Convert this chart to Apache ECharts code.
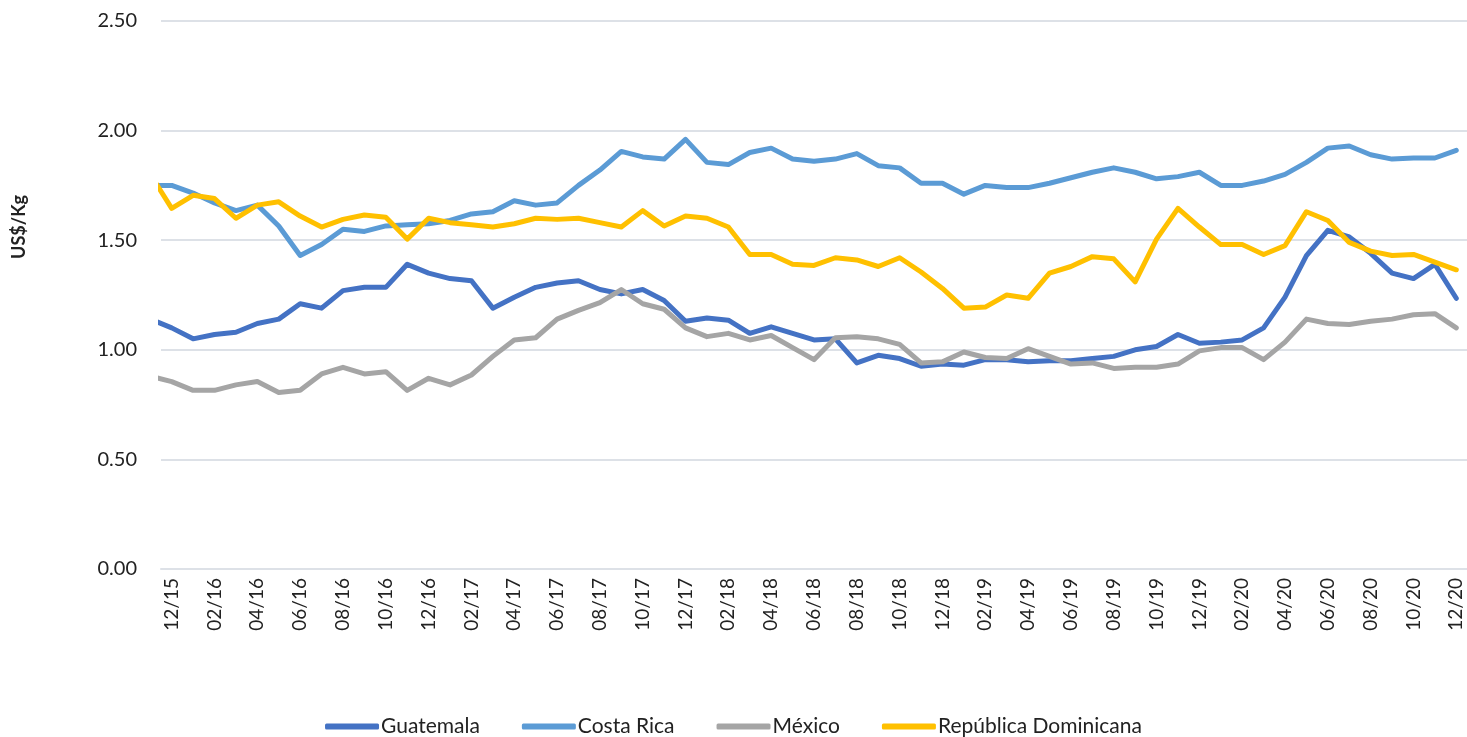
<!DOCTYPE html>
<html>
<head>
<meta charset="utf-8">
<title>US$/Kg</title>
<script src="https://cdn.jsdelivr.net/npm/echarts@6/dist/echarts.min.js"></script>
<style>
  html, body { margin: 0; padding: 0; background: #fff; }
  #chart { width: 1467px; height: 737px; }
</style>
</head>
<body>
<div id="chart"></div>
<script>
// months, first one (11/15) sits just outside the plot and only shows as a clipped stub
const months = [
  '11/15', '12/15',
  '01/16', '02/16', '03/16', '04/16', '05/16', '06/16', '07/16', '08/16', '09/16', '10/16', '11/16', '12/16',
  '01/17', '02/17', '03/17', '04/17', '05/17', '06/17', '07/17', '08/17', '09/17', '10/17', '11/17', '12/17',
  '01/18', '02/18', '03/18', '04/18', '05/18', '06/18', '07/18', '08/18', '09/18', '10/18', '11/18', '12/18',
  '01/19', '02/19', '03/19', '04/19', '05/19', '06/19', '07/19', '08/19', '09/19', '10/19', '11/19', '12/19',
  '01/20', '02/20', '03/20', '04/20', '05/20', '06/20', '07/20', '08/20', '09/20', '10/20', '11/20', '12/20'
]
// every other month is labelled
const labelMonths = [
  '12/15', '02/16', '04/16', '06/16', '08/16', '10/16', '12/16', '02/17', '04/17', '06/17', '08/17',
  '10/17', '12/17', '02/18', '04/18', '06/18', '08/18', '10/18', '12/18', '02/19', '04/19', '06/19',
  '08/19', '10/19', '12/19', '02/20', '04/20', '06/20', '08/20', '10/20', '12/20'
]

const guatemala = [
  1.14, 1.10, 1.05, 1.07, 1.08, 1.12, 1.14, 1.21, 1.19, 1.27, 1.285, 1.285, 1.39, 1.35,
  1.325, 1.315, 1.19, 1.24, 1.285, 1.305, 1.315, 1.275, 1.255, 1.275, 1.225, 1.13, 1.145,
  1.135, 1.075, 1.105, 1.075, 1.045, 1.05, 0.94, 0.975, 0.96, 0.925, 0.935, 0.93, 0.955,
  0.955, 0.945, 0.95, 0.95, 0.96, 0.97, 1.00, 1.015, 1.07, 1.03, 1.035, 1.045, 1.10,
  1.24, 1.43, 1.545, 1.515, 1.44, 1.35, 1.325, 1.39, 1.235
]
const costaRica = [
  1.75, 1.75, 1.715, 1.67, 1.635, 1.66, 1.565, 1.43, 1.48, 1.55, 1.54, 1.565, 1.57, 1.575,
  1.59, 1.62, 1.63, 1.68, 1.66, 1.67, 1.75, 1.82, 1.905, 1.88, 1.87, 1.96, 1.855,
  1.845, 1.90, 1.92, 1.87, 1.86, 1.87, 1.895, 1.84, 1.83, 1.76, 1.76, 1.71, 1.75,
  1.74, 1.74, 1.76, 1.785, 1.81, 1.83, 1.81, 1.78, 1.79, 1.81, 1.75, 1.75, 1.77,
  1.80, 1.855, 1.92, 1.93, 1.89, 1.87, 1.875, 1.875, 1.91
]
const mexico = [
  0.88, 0.855, 0.815, 0.815, 0.84, 0.855, 0.805, 0.815, 0.89, 0.92, 0.89, 0.90, 0.815, 0.87,
  0.84, 0.885, 0.97, 1.045, 1.055, 1.14, 1.18, 1.215, 1.275, 1.21, 1.185, 1.10, 1.06,
  1.075, 1.045, 1.065, 1.01, 0.955, 1.055, 1.06, 1.05, 1.025, 0.94, 0.945, 0.99, 0.965,
  0.96, 1.005, 0.97, 0.935, 0.94, 0.915, 0.92, 0.92, 0.935, 0.995, 1.01, 1.01, 0.955,
  1.035, 1.14, 1.12, 1.115, 1.13, 1.14, 1.16, 1.165, 1.10
]
const repDominicana = [
  1.80, 1.645, 1.705, 1.69, 1.60, 1.66, 1.675, 1.61, 1.56, 1.595, 1.615, 1.605, 1.505, 1.60,
  1.58, 1.57, 1.56, 1.575, 1.60, 1.595, 1.60, 1.58, 1.56, 1.635, 1.565, 1.61, 1.60,
  1.56, 1.435, 1.435, 1.39, 1.385, 1.42, 1.41, 1.38, 1.42, 1.355, 1.28, 1.19, 1.195,
  1.25, 1.235, 1.35, 1.38, 1.425, 1.415, 1.31, 1.505, 1.645, 1.56, 1.48, 1.48, 1.435,
  1.475, 1.63, 1.59, 1.49, 1.45, 1.43, 1.435, 1.40, 1.365
]

const seriesNames = ['Guatemala', 'Costa Rica', 'México', 'República Dominicana']
const seriesColors = ['#4472c4', '#5b9bd5', '#a5a5a5', '#ffc000']
const seriesData = [guatemala, costaRica, mexico, repDominicana]

const font = 'Lato, "Open Sans", sans-serif'
const chart = echarts.init(document.getElementById('chart'))

chart.setOption({
  animation: false,
  color: seriesColors,
  grid: { left: 161, right: 0, top: 21, bottom: 168 },
  legend: {
    top: 711,
    left: 'center',
    itemWidth: 54,
    itemHeight: 6,
    itemGap: 42,
    icon: 'roundRect',
    textStyle: { fontFamily: font, fontSize: 21, color: '#222', padding: [0, 0, 0, -3] },
    data: seriesNames
  },
  graphic: [{
    type: 'text',
    left: 10,
    top: 195,
    rotation: Math.PI / 2,
    style: { text: 'US$/Kg', font: 'bold 18px ' + font, fill: '#222' }
  }],
  xAxis: {
    type: 'value',
    min: 0.5,
    max: months.length - 0.5,
    axisLine: { show: true, lineStyle: { color: '#dde1e7', width: 2 } },
    axisTick: { show: false },
    splitLine: { show: false },
    axisLabel: {
      customValues: labelMonths.map(m => months.indexOf(m)),
      formatter: v => months[v],
      rotate: 90,
      margin: 9,
      fontFamily: font,
      fontSize: 19,
      color: '#222'
    }
  },
  yAxis: {
    type: 'value',
    min: 0,
    max: 2.5,
    interval: 0.5,
    axisLine: { show: false },
    axisTick: { show: false },
    splitLine: { lineStyle: { color: '#dde1e7', width: 2 } },
    axisLabel: {
      formatter: v => v.toFixed(2),
      margin: 24,
      fontFamily: font,
      fontSize: 20,
      color: '#222'
    }
  },
  series: seriesNames.map((name, k) => ({
    name: name,
    type: 'line',
    showSymbol: false,
    clip: true,
    lineStyle: { width: 5, cap: 'round', join: 'round' },
    data: seriesData[k].map((v, i) => [i, v])
  }))
})
</script>
</body>
</html>
